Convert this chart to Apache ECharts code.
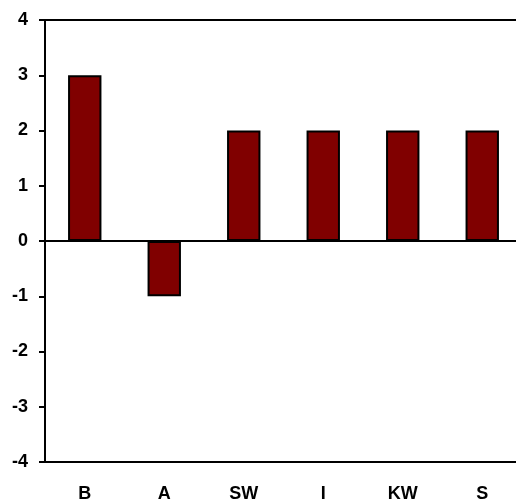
<!DOCTYPE html>
<html><head><meta charset="utf-8">
<script src="https://cdn.jsdelivr.net/npm/echarts@6/dist/echarts.min.js"></script>
<style>html,body{margin:0;padding:0;background:#fff}#c{width:516px;height:502px}</style>
</head><body><div id="c"></div>
<script>
var categories = ['B', 'A', 'SW', 'I', 'KW', 'S'];
var values = [3, -1, 2, 2, 2, 2];
var yTicks = [-4, 4, 1];

var chart = echarts.init(document.getElementById('c'));
chart.setOption({
  animation: false,
  grid: { left: 45, top: 20, height: 442, width: 477, outerBoundsMode: 'none', containLabel: false,
    show: true, borderColor: '#000', borderWidth: 2, backgroundColor: 'transparent' },
  xAxis: {
    type: 'category', data: categories,
    axisLine: { onZero: false, lineStyle: { color: '#000', width: 2 } },
    axisTick: { show: false },
    axisLabel: { color: '#000', fontFamily: 'Liberation Sans, Arial', fontWeight: 'bold', fontSize: 18, margin: 23 }
  },
  yAxis: {
    type: 'value', min: yTicks[0], max: yTicks[1], interval: yTicks[2],
    axisLine: { show: true, lineStyle: { color: '#000', width: 2 } },
    axisTick: { show: true, length: 6, lineStyle: { color: '#000', width: 2 } },
    splitLine: { show: false },
    axisLabel: { color: '#000', fontFamily: 'Liberation Sans, Arial', fontWeight: 'bold', fontSize: 18, margin: 17 }
  },
  series: [{
    type: 'bar', data: values, barWidth: '42%',
    itemStyle: { color: '#800000', borderColor: '#000', borderWidth: 2 },
    markLine: { silent: true, symbol: 'none', label: { show: false },
      lineStyle: { color: '#000', width: 2, type: 'solid' }, data: [{ yAxis: 0 }] }
  }]
});
</script></body></html>
